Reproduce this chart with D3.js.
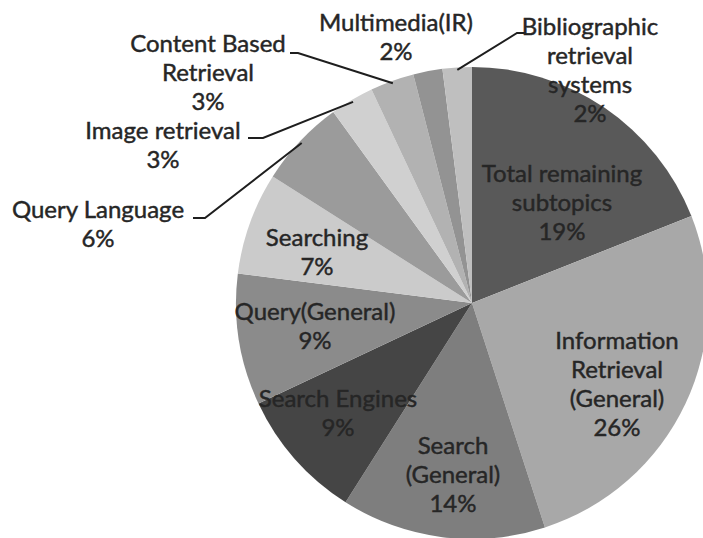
<!DOCTYPE html>
<html>
<head>
<meta charset="utf-8">
<script src="https://cdn.jsdelivr.net/npm/d3@7"></script>
<style>
  html, body { margin: 0; padding: 0; background: #fff; }
  svg { display: block; }
  text {
    font-family: Lato, "Open Sans", sans-serif;
    font-size: 24px;
    fill: #262626;
    stroke: #262626;
    stroke-width: 0.45px;
  }
</style>
</head>
<body>
<svg id="chart" width="703" height="538"></svg>
<script>
// Share of subtopics, clockwise from 12 o'clock
const categories = [
  "Total remaining subtopics",
  "Information Retrieval (General)",
  "Search (General)",
  "Search Engines",
  "Query(General)",
  "Searching",
  "Query Language",
  "Image retrieval",
  "Content Based Retrieval",
  "Multimedia(IR)",
  "Bibliographic retrieval systems"
];
const values = [19, 26, 14, 9, 9, 7, 6, 3, 3, 2, 2];

// How each label is broken into lines
const labelLines = [
  ["Total remaining", "subtopics"],
  ["Information", "Retrieval", "(General)"],
  ["Search", "(General)"],
  ["Search Engines"],
  ["Query(General)"],
  ["Searching"],
  ["Query Language"],
  ["Image retrieval"],
  ["Content Based", "Retrieval"],
  ["Multimedia(IR)"],
  ["Bibliographic", "retrieval", "systems"]
];

const sliceColors = [
  "#595959", "#a8a8a8", "#7e7e7e", "#454545", "#8b8b8b", "#cbcbcb",
  "#9b9b9b", "#d0d0d0", "#b2b2b2", "#939393", "#bfbfbf"
];

// Label placement: x = centre of the text block, y = first baseline.
// Outside labels carry an elbow (ex, ey) and tick end (tx) for the leader line.
const labelLayout = [
  { x: 562, y: 182 },
  { x: 617, y: 349 },
  { x: 453, y: 454 },
  { x: 338, y: 407 },
  { x: 315, y: 320 },
  { x: 317, y: 246 },
  { x: 98,  y: 218, leader: { ex: 205, ey: 218, tx: 193 } },
  { x: 163, y: 139, leader: { ex: 263, ey: 138, tx: 248 } },
  { x: 208, y: 52,  leader: { ex: 298, ey: 53,  tx: 290 } },
  { x: 396, y: 31 },
  { x: 590, y: 35,  leader: { ex: 517, ey: 33,  tx: 525 } }
];

const lineHeight = 29;
const cx = 472, cy = 303, radius = 236;

const svg = d3.select("#chart");
const g = svg.append("g").attr("transform", `translate(${cx},${cy})`);

const pie = d3.pie().value(d => d).sort(null);
const arcs = pie(values);
const arc = d3.arc().innerRadius(0).outerRadius(radius);

g.selectAll("path.slice")
  .data(arcs)
  .join("path")
  .attr("class", "slice")
  .attr("d", arc)
  .attr("fill", (d, i) => sliceColors[i]);

// Leader lines for the small slices labelled outside the pie
const edgeArc = d3.arc().innerRadius(radius * 0.99).outerRadius(radius * 0.99);
arcs.forEach((d, i) => {
  const L = labelLayout[i].leader;
  if (!L) return;
  const [px, py] = edgeArc.centroid(d);
  const p0 = [px + cx, py + cy];
  svg.append("path")
    .attr("d", d3.line()([p0, [L.ex, L.ey], [L.tx, L.ey]]))
    .attr("fill", "none")
    .attr("stroke", "#1e1e1e")
    .attr("stroke-width", 2);
});

// Text labels: name lines followed by the percentage
arcs.forEach((d, i) => {
  const pos = labelLayout[i];
  const lines = labelLines[i].concat([d3.format(".0f")(values[i]) + "%"]);
  const t = svg.append("text")
    .attr("text-anchor", "middle")
    .attr("x", pos.x)
    .attr("y", pos.y);
  lines.forEach((s, k) => {
    t.append("tspan")
      .attr("x", pos.x)
      .attr("dy", k === 0 ? 0 : lineHeight)
      .text(s);
  });
});
</script>
</body>
</html>
